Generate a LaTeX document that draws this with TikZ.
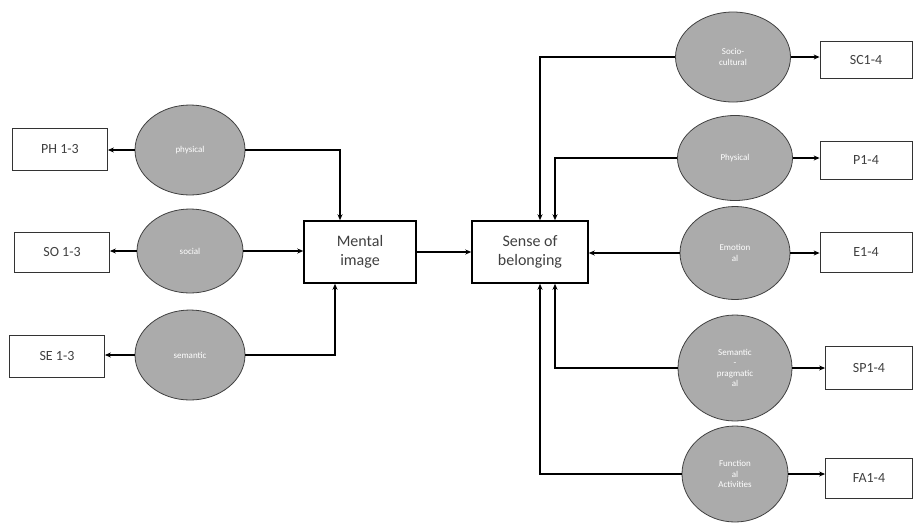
\documentclass[tikz,border=0pt]{standalone}
\usepackage{fontspec}
\setmainfont{Carlito}
\usetikzlibrary{arrows.meta,shapes.geometric}
\tikzset{
  circ/.style={ellipse,draw=black!75,line width=0.8pt,fill=black!33,minimum width=#1,inner sep=0pt,
    text=white,font=\fontsize{9}{10.5}\selectfont,align=center},
  circ/.default=110pt,
  lbox/.style={draw=black!80,line width=0.8pt,fill=white,minimum width=95pt,minimum height=42pt,
    font=\fontsize{14}{15}\selectfont,text=black!75},
  mbox/.style={draw=black,line width=1.5pt,fill=white,minimum width=112pt,minimum height=62pt,
    font=\fontsize{16}{19}\selectfont,text=black!75,align=center},
  con/.style={line width=1.4pt,-{Stealth[length=6pt,width=5pt]}},
}
\begin{document}
\begin{tikzpicture}[x=1pt,y=-1pt]
\useasboundingbox (0,0) rectangle (915,523);
% left circles
\node[circ,minimum height=90pt] (phy) at (190,150) {physical};
\node[circ,minimum width=106pt,minimum height=84pt] (soc) at (190,251) {social};
\node[circ,minimum height=90pt] (sem) at (190,355) {semantic};
% left boxes
\node[lbox] (ph) at (60,149) {PH 1-3};
\node[lbox,minimum height=40pt] (so) at (62,252) {SO 1-3};
\node[lbox] (se) at (57,356) {SE 1-3};
% centre boxes
\node[mbox] (mi) at (360,252) {Mental\\image};
\node[mbox,minimum width=116pt] (sb) at (530,252) {Sense of\\belonging};
% right circles
\node[circ,minimum width=115pt,minimum height=90pt] (sc) at (733,57) {Socio-\\cultural};
\node[circ,minimum width=115pt,minimum height=85pt] (py) at (735,158) {Physical};
\node[circ,minimum width=110pt,minimum height=93pt] (em) at (735,253) {Emotion\\al};
\node[circ,minimum width=114pt,minimum height=106pt] (sp) at (735,368) {Semantic\\-\\pragmatic\\al};
\node[circ,minimum width=106pt,minimum height=96pt] (fa) at (735,474) {Function\\al\\Activities};
% right boxes
\node[lbox,minimum width=92pt,minimum height=37pt] (scb) at (866,60) {SC1-4};
\node[lbox,minimum width=92pt,minimum height=38pt] (pb) at (866,160) {P1-4};
\node[lbox,minimum width=92pt,minimum height=40pt] (eb) at (866,252) {E1-4};
\node[lbox,minimum width=87pt,minimum height=43pt] (spb) at (869,368) {SP1-4};
\node[lbox,minimum width=87pt,minimum height=40pt] (fab) at (869,478) {FA1-4};
% left connectors
\draw[con] (phy.west) -- (phy.west -| ph.east);
\draw[con] (soc.west) -- (soc.west -| so.east);
\draw[con] (sem.west) -- (sem.west -| se.east);
\draw[con] (phy.east) -| ([xshift=-20pt]mi.north);
\draw[con] (soc.east) -- (soc.east -| mi.west);
\draw[con] (sem.east) -| ([xshift=-25pt]mi.south);
\draw[con,line width=2pt] (mi.east) -- (mi.east -| sb.west);
% right connectors
\draw[con] (sc.west) -| ([xshift=10pt]sb.north);
\draw[con] (py.west) -| ([xshift=25pt]sb.north);
\draw[con] (em.west) -- (em.west -| sb.east);
\draw[con] (sp.west) -| ([xshift=25pt]sb.south);
\draw[con] (fa.west) -| ([xshift=10pt]sb.south);
\draw[con] (sc.east) -- (sc.east -| scb.west);
\draw[con] (py.east) -- (py.east -| pb.west);
\draw[con] (em.east) -- (em.east -| eb.west);
\draw[con] (sp.east) -- (sp.east -| spb.west);
\draw[con] (fa.east) -- (fa.east -| fab.west);
\end{tikzpicture}
\end{document}
